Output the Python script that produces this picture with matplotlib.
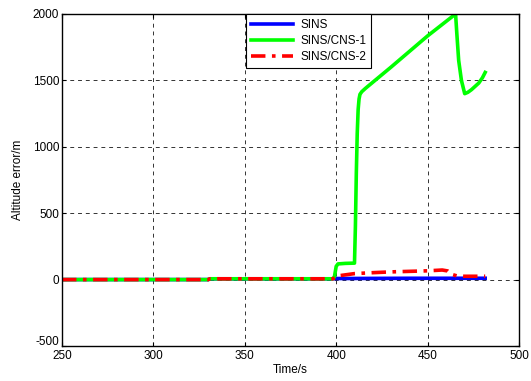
import matplotlib.pyplot as plt
import matplotlib.transforms as mtransforms

plt.rcParams['font.family'] = ['Liberation Sans', 'DejaVu Sans']
plt.rcParams['axes.unicode_minus'] = False

# datos
t_sins = [250, 330, 331, 398, 400, 420, 440, 460, 481.5]
e_sins = [0, 0, 6, 6, 8, 9, 10, 10, 10]

t_cns1 = [250, 330, 331, 398, 399, 399.5, 400, 401, 405, 410, 410.5, 411, 411.5,
          412, 412.5, 413, 414, 416, 430, 450, 465.3, 466, 467, 468.5, 470.3,
          472, 474, 476, 478, 480, 481.5]
e_cns1 = [0, 0, 6, 6, 20, 60, 100, 118, 122, 124, 400, 800, 1100,
          1280, 1360, 1395, 1415, 1440, 1600, 1835, 2000, 1850, 1650, 1500, 1400,
          1410, 1430, 1455, 1480, 1520, 1560]

t_cns2 = [250, 330, 331, 398, 400, 402, 410, 420, 430, 440, 450, 458, 461, 463,
          466, 470, 481.5]
e_cns2 = [0, 0, 6, 6, 15, 30, 45, 52, 58, 62, 66, 72, 65, 40,
          28, 25, 25]

fig = plt.figure(figsize=(5.31, 3.81), dpi=100)
ax = fig.add_axes([0.1168, 0.0919, 0.8606, 0.8714])

ax.plot(t_sins, e_sins, color='#0000ff', linewidth=2.6, label='SINS')
ax.plot(t_cns1, e_cns1, color='#00ff00', linewidth=2.6, label='SINS/CNS-1')
ax.plot(t_cns2, e_cns2, color='#ff0000', linewidth=2.6,
        linestyle=(0, (4, 1.8, 1, 1.8)), label='SINS/CNS-2')

ax.set_xlim(250, 500)
ax.set_ylim(-500, 2000)
ax.set_xticks([250, 300, 350, 400, 450, 500])
ax.set_yticks([-500, 0, 500, 1000, 1500, 2000])
ax.tick_params(direction='in', top=True, right=True, labelsize=8.5,
               length=3, width=0.8, pad=2)
ax.tick_params(axis='x', pad=3)
for s in ax.spines.values():
    s.set_linewidth(1.0)

# subir un poco la etiqueta -500 como en la original
fig.canvas.draw()
ylabs = ax.get_yticklabels()
ylabs[0].set_transform(ylabs[0].get_transform() +
                       mtransforms.ScaledTranslation(0, 4 / 72, fig.dpi_scale_trans))

ax.grid(True, color='#333333', linestyle=(0, (4, 4)), linewidth=0.7)
ax.set_axisbelow(True)

ax.set_xlabel('Time/s', fontsize=8.5, labelpad=1)
ax.set_ylabel('Altitude error/m', fontsize=8.5, labelpad=6)

leg = ax.legend(loc='upper left', bbox_to_anchor=(0.403, 1.0), borderaxespad=0,
                fontsize=8.5, handlelength=3.6, fancybox=False, framealpha=1,
                edgecolor='black', labelspacing=0.35, borderpad=0.4,
                handletextpad=0.6)
leg.get_frame().set_linewidth(0.8)

plt.savefig('out.png', dpi=100)
